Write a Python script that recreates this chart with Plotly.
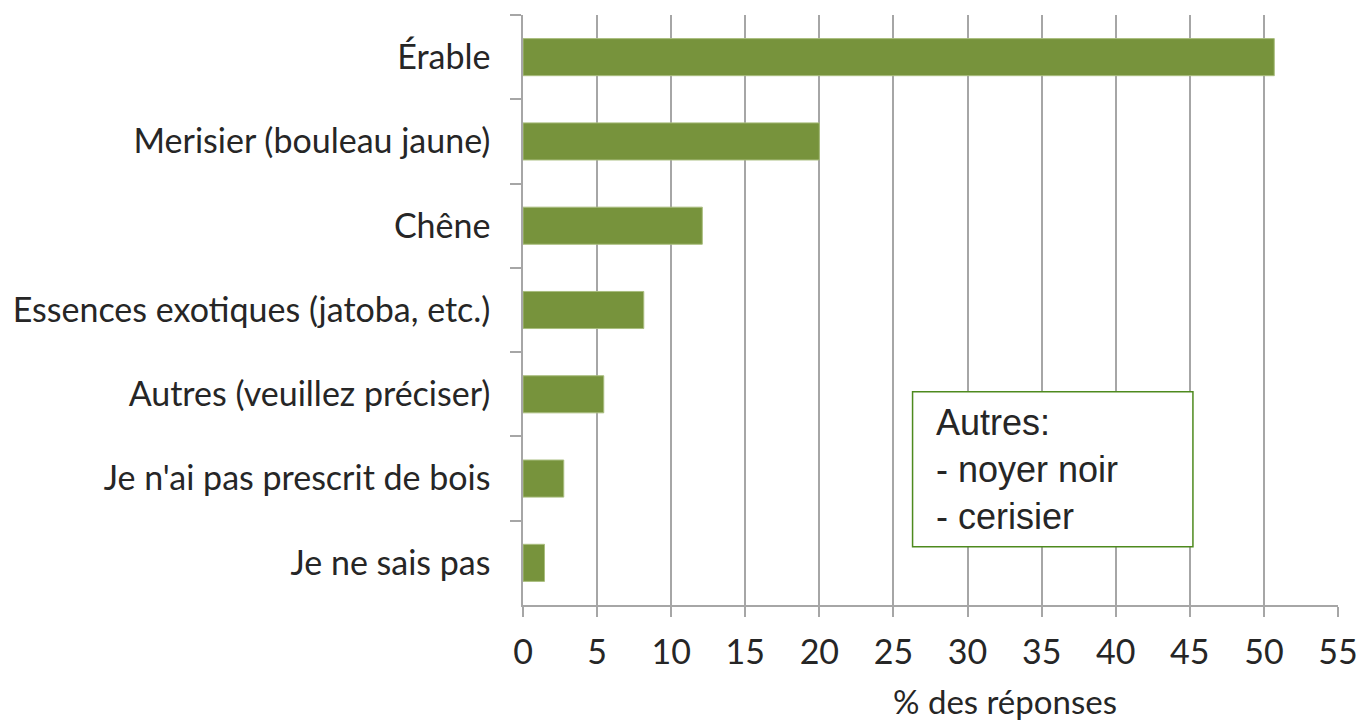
import plotly.graph_objects as go

categories = ["Érable", "Merisier (bouleau jaune)", "Chêne", "Essences exotiques (jatoba, etc.)",
              "Autres (veuillez préciser)", "Je n'ai pas prescrit de bois", "Je ne sais pas"]
values = [50.7, 20.0, 12.1, 8.15, 5.45, 2.75, 1.45]
x_ticks = list(range(0, 60, 5))
note_text = "Autres:<br>- noyer noir<br>- cerisier"
x_title = "% des réponses"

BAR = "#77933C"
GRID = "#A6A6A6"
TXT = "#262626"
LABEL_FONT = "Lato"
FS = 34

fig = go.Figure(go.Bar(
    x=values, y=categories, orientation="h",
    marker=dict(color=BAR, line=dict(color="#A9BD7E", width=1)),
    width=0.44,
))

fig.update_layout(
    width=1360, height=721,
    margin=dict(l=523, r=22, t=15, b=116, autoexpand=False),
    paper_bgcolor="white", plot_bgcolor="white",
    showlegend=False,
)
fig.update_xaxes(
    range=[0, 55], tickvals=x_ticks, ticktext=[str(v) for v in x_ticks],
    showgrid=True, gridcolor=GRID, gridwidth=1.5,
    showline=True, linecolor=GRID, linewidth=1.5,
    ticks="outside", ticklen=10, tickcolor=GRID, tickwidth=1.5,
    ticklabelstandoff=6, automargin=False,
    tickfont=dict(family=LABEL_FONT, size=FS, color=TXT),
    zeroline=False,
)
fig.update_yaxes(
    categoryorder="array", categoryarray=categories, autorange="reversed",
    showgrid=False, showline=True, linecolor=GRID, linewidth=1.5,
    ticks="outside", ticklen=11, tickcolor=GRID, tickwidth=1.5,
    tickson="boundaries", automargin=False,
    ticklabelstandoff=24,
    tickfont=dict(family=LABEL_FONT, size=FS, color=TXT),
)

fig.add_shape(type="rect", xref="paper", yref="paper",
              x0=0.478, x1=0.822, y0=0.0988, y1=0.3615,
              line=dict(color="#4E8A1E", width=1.5), fillcolor="white", layer="above")
fig.add_annotation(xref="paper", yref="paper", x=0.5037, y=0.229,
                   xanchor="left", yanchor="middle", align="left",
                   text=note_text, showarrow=False,
                   font=dict(family="Liberation Sans", size=36, color=TXT))
fig.add_annotation(xref="paper", yref="paper", x=0.591, y=-0.163,
                   xanchor="center", yanchor="middle",
                   text=x_title, showarrow=False,
                   font=dict(family=LABEL_FONT, size=33, color=TXT))

fig.write_html("out.html", config={"displayModeBar": False},
               post_script="document.body.style.margin='0';document.body.style.padding='0';")
